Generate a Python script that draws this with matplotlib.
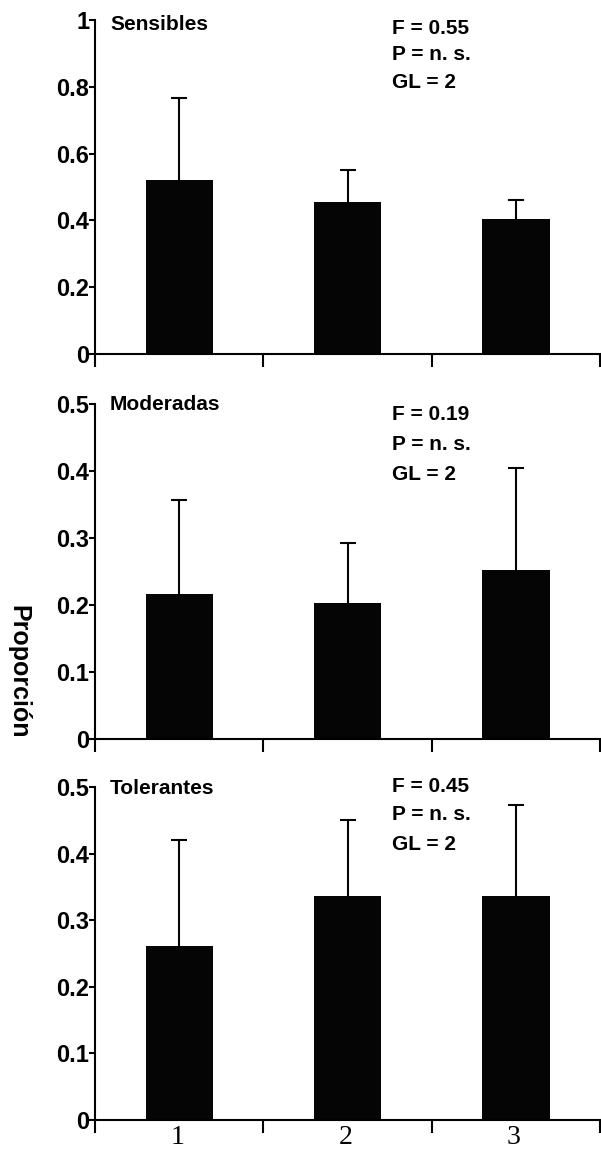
import matplotlib
matplotlib.use("Agg")
import matplotlib.pyplot as plt
from matplotlib.ticker import FixedLocator
from matplotlib.transforms import offset_copy

# ---- data ----
categories = ["1", "2", "3"]
panel_titles = ["Sensibles", "Moderadas", "Tolerantes"]
sens_mean = [0.52, 0.455, 0.405]
sens_err = [0.245, 0.095, 0.055]
mod_mean = [0.217, 0.203, 0.252]
mod_err = [0.139, 0.089, 0.153]
tol_mean = [0.261, 0.337, 0.337]
tol_err = [0.159, 0.113, 0.136]
stats_F = ["0.55", "0.19", "0.45"]
stats_P = ["n. s.", "n. s.", "n. s."]
stats_GL = ["2", "2", "2"]
yticks_top = [0, 0.2, 0.4, 0.6, 0.8, 1]
yticklabels_top = ["0", "0.2", "0.4", "0.6", "0.8", "1"]
yticks_low = [0, 0.1, 0.2, 0.3, 0.4, 0.5]
yticklabels_low = ["0", "0.1", "0.2", "0.3", "0.4", "0.5"]
ylabel = "Proporción"

means = [sens_mean, mod_mean, tol_mean]
errs = [sens_err, mod_err, tol_err]
ymax = [1.0, 0.5, 0.5]
yticks = [yticks_top, yticks_low, yticks_low]
ytl = [yticklabels_top, yticklabels_low, yticklabels_low]

W, H = 601, 1149
fig = plt.figure(figsize=(W / 100, H / 100), dpi=100)

# pixel boxes (top, bottom)
boxes = [(20, 354), (404, 739), (787, 1120)]
left_px, right_px = 95, 600
stat_y_px = [28, 415, 786]
stat_dy = [27, 30, 29]
title_y_px = [25, 405, 788]

sans = "Liberation Sans"
for i in range(3):
    top, bot = boxes[i]
    ax = fig.add_axes([left_px / W, 1 - bot / H, (right_px - left_px) / W, (bot - top) / H])
    x = list(range(1, len(categories) + 1))
    ax.bar(x, means[i], width=0.4, color="#050505", edgecolor="none", zorder=2)
    ax.errorbar(x, means[i], yerr=errs[i], fmt="none", ecolor="#050505",
                elinewidth=1.5, capsize=5.5, capthick=1.5, zorder=1)
    ax.set_xlim(0.5, 3.5)
    ax.set_ylim(0, ymax[i])
    for s in ["top", "right"]:
        ax.spines[s].set_visible(False)
    for s in ["left", "bottom"]:
        ax.spines[s].set_linewidth(1.5)
        ax.spines[s].set_zorder(3)
    ax.set_yticks(yticks[i])
    ax.set_yticklabels(ytl[i], fontsize=17, fontweight="bold", family=sans)
    ax.tick_params(axis="y", direction="out", length=4, width=1.5, pad=0)
    ax.xaxis.set_major_locator(FixedLocator([0.5, 1.5, 2.5, 3.5]))
    ax.tick_params(axis="x", direction="out", length=9, width=1.5, labelbottom=False)
    if i == 2:
        tr = offset_copy(ax.get_xaxis_transform(), fig=fig, x=-2, y=-24, units="dots")
        for xi, c in zip(x, categories):
            ax.text(xi, 0, c, transform=tr, ha="center", va="baseline", fontsize=20,
                    family="Liberation Serif")
    ty = 1 - (title_y_px[i] - top) / (bot - top)
    ax.text(0.589, ty * ymax[i], panel_titles[i], fontsize=15, fontweight="bold",
            family=sans, ha="left", va="center")
    sx = 0.5 + (392 - left_px) / ((right_px - left_px) / 3)
    lines = ["F = " + stats_F[i], "P = " + stats_P[i], "GL = " + stats_GL[i]]
    for k, ln in enumerate(lines):
        ypx = stat_y_px[i] + k * stat_dy[i]
        yv = (bot - ypx) / (bot - top) * ymax[i]
        ax.text(sx, yv, ln, fontsize=15, fontweight="heavy", family=sans,
                ha="left", va="center", clip_on=False)

fig.text(18 / W, 1 - 672 / H, ylabel, rotation=270, fontsize=18, fontweight="bold",
         family=sans, ha="center", va="center")

fig.savefig("out.png", dpi=100)
